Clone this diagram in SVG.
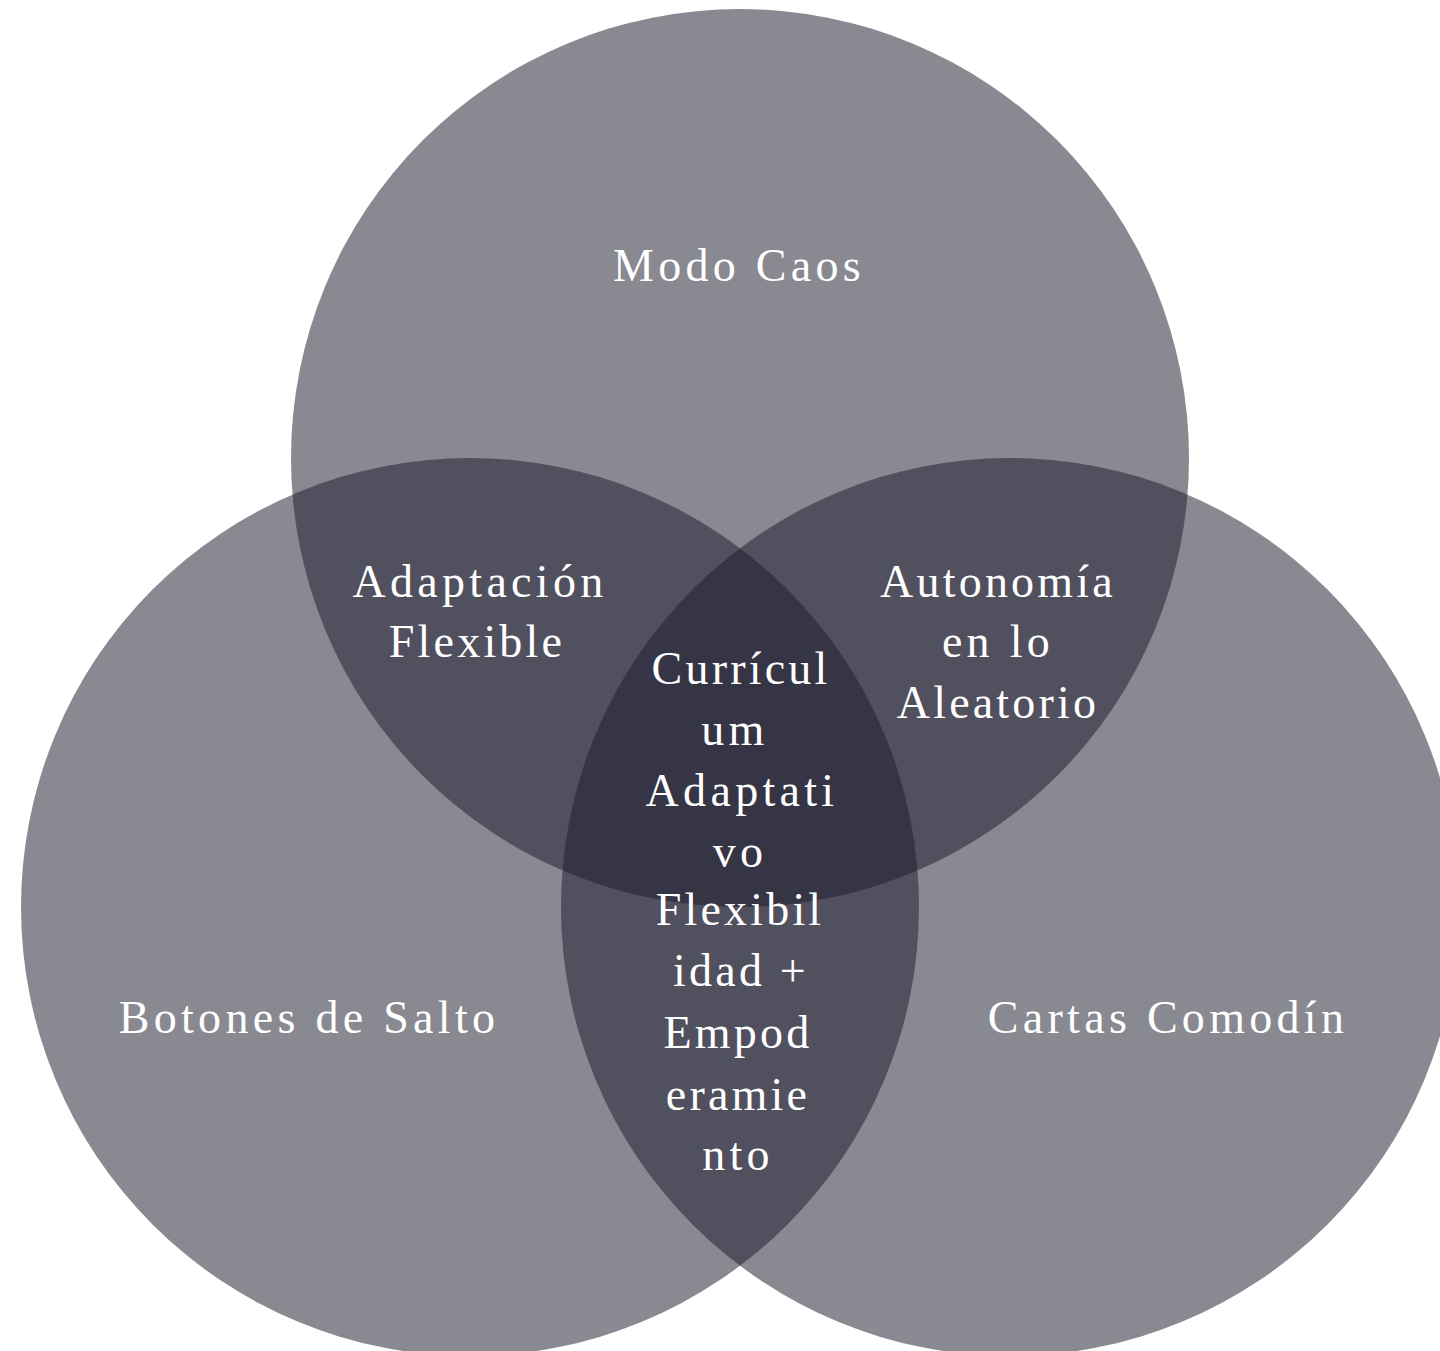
<svg xmlns="http://www.w3.org/2000/svg" width="1440" height="1351" viewBox="0 0 1440 1351">
<style>
.c{fill:#1c1c2e;fill-opacity:0.52}
.t{font-family:"Liberation Serif","Times New Roman",serif;font-size:46px;fill:#ffffff;text-anchor:middle;letter-spacing:4.3px}
.n{letter-spacing:3.2px}
</style>
<rect width="1440" height="1351" fill="#ffffff"/>
<g id="circle-modo-caos">
<circle class="c" cx="740" cy="458" r="449"/>
<text class="t" x="739" y="281">Modo Caos</text>
</g>
<g id="circle-botones">
<circle class="c" cx="470" cy="907" r="449"/>
<text class="t" x="309" y="1033">Botones de Salto</text>
</g>
<g id="circle-cartas">
<circle class="c" cx="1010" cy="907" r="449"/>
<text class="t" x="1168" y="1033">Cartas Comodín</text>
</g>
<g id="overlap-adaptacion">
<text class="t" x="480" y="597">Adaptación</text>
<text class="t n" x="477" y="657">Flexible</text>
</g>
<g id="overlap-autonomia">
<text class="t n" x="998" y="597">Autonomía</text>
<text class="t" x="998" y="657">en lo</text>
<text class="t n" x="998" y="718">Aleatorio</text>
</g>
<g id="center">
<text class="t n" x="741" y="684">Currícul</text>
<text class="t" x="735" y="745">um</text>
<text class="t" x="742" y="806">Adaptati</text>
<text class="t" x="740" y="867">vo</text>
<text class="t n" x="740" y="925">Flexibil</text>
<text class="t n" x="741" y="986">idad +</text>
<text class="t n" x="738" y="1048">Empod</text>
<text class="t n" x="738" y="1110">eramie</text>
<text class="t" x="738" y="1170">nto</text>
</g>
<g id="connectors"></g>
</svg>
